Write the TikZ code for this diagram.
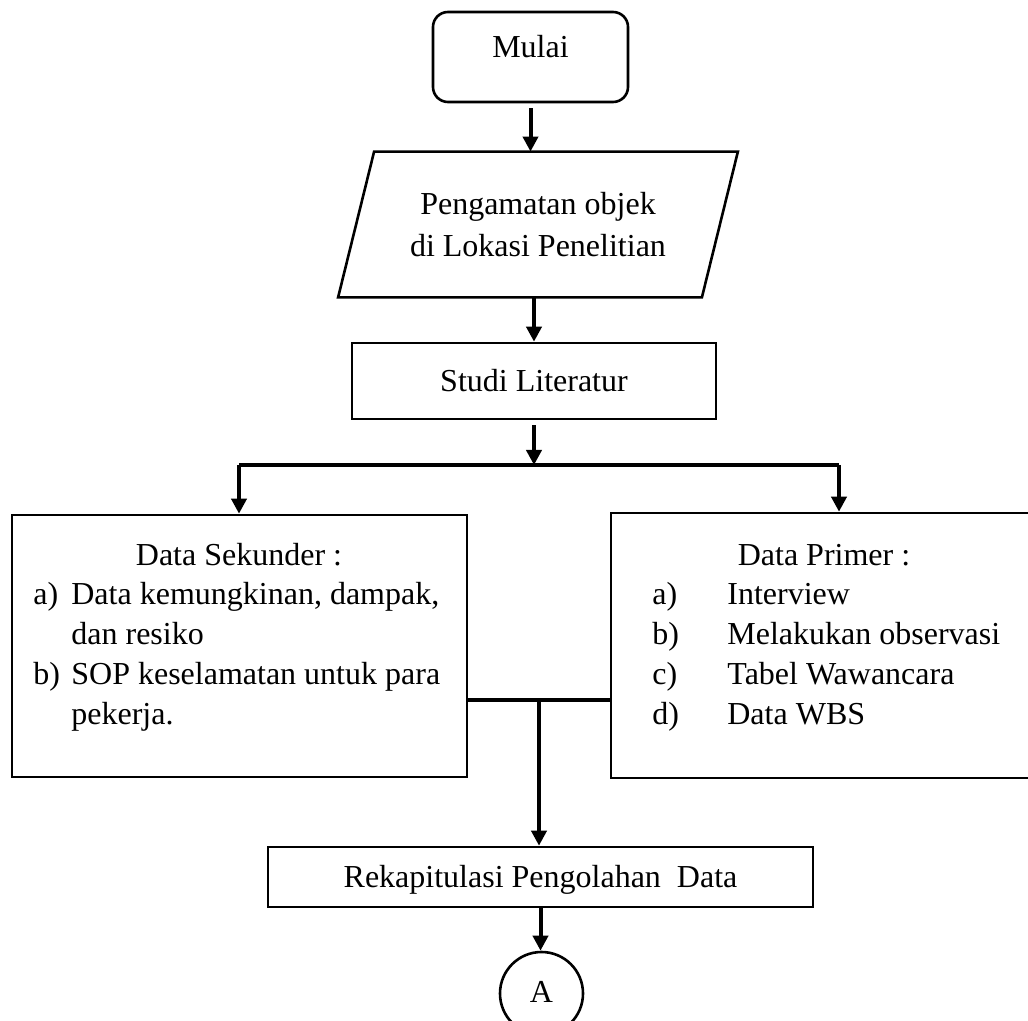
\documentclass[tikz,border=0pt]{standalone}
\usepackage{fontspec}
\setmainfont{Liberation Serif}
\usetikzlibrary{arrows.meta}
\begin{document}
\begin{tikzpicture}[x=0.5pt,y=-0.5pt,
  every node/.style={font=\fontsize{16}{20}\selectfont},
  box/.style={draw, line width=1.3pt, inner sep=0pt},
  arr/.style={line width=2pt, -{Triangle[width=7.5pt,length=7.5pt]}},
  ln/.style={line width=2pt},
]
\useasboundingbox (0,0) rectangle (1028,1021);

% Start
\node[box, rounded corners=7.5pt, minimum width=97.5pt, minimum height=45pt,
      text height=10.9pt, text depth=9.9pt] (mulai) at (530.5,57) {Mulai};

% Parallelogram
\node[inner sep=0pt, minimum width=181.5pt, minimum height=72.5pt, align=center,
      font=\fontsize{16}{21}\selectfont] (obs) at (538,224.5)
      {Pengamatan objek\\di Lokasi Penelitian};
\draw[line width=1.3pt] ([xshift=-9pt]obs.south west) -- ([xshift=-9pt]obs.south east)
  -- ([xshift=9pt]obs.north east) -- ([xshift=9pt]obs.north west) -- cycle;

% Studi Literatur
\node[box, minimum width=182pt, minimum height=38pt] (studi) at (534,381) {Studi Literatur};

% Data Sekunder
\node[box, minimum width=227.5pt, minimum height=131pt] (sek) at (239.5,646) {};
\node[anchor=base] (sekT) at (239,565) {Data Sekunder :};
\node[anchor=base west, inner sep=0pt] (sekL) at (33,604)
  {\begin{tabular}[t]{@{}p{19pt}@{}l@{}}a) & Data kemungkinan, dampak,\\ & dan resiko\\ b) & SOP keselamatan untuk para\\ & pekerja.\end{tabular}};

% Data Primer
\node[box, minimum width=213pt, minimum height=132.5pt] (prim) at (824,645.5) {};
\node[anchor=base] (primT) at (824,565) {Data Primer :};
\node[anchor=base west, inner sep=0pt] (primL) at (652,604)
  {\begin{tabular}[t]{@{}p{37.5pt}@{}l@{}}a) & Interview\\ b) & Melakukan observasi\\ c) & Tabel Wawancara\\ d) & Data WBS\end{tabular}};

% Rekapitulasi
\node[box, minimum width=272.5pt, minimum height=30pt, text height=10.9pt, text depth=0pt]
  (rekap) at (540.5,877) {Rekapitulasi Pengolahan\ \ Data};

% Connector A
\node[circle, draw, line width=1.3pt, minimum size=41.5pt, inner sep=0pt,
      text height=10.6pt, text depth=2.1pt] (A) at (541.5,993.5) {A};

% Coordinates
\coordinate (br) at (536,465);
\coordinate (brL) at (239,465);
\coordinate (brR) at (839,465);
\coordinate (jn) at (539,700);

% Connectors
\draw[arr] ([yshift=-2.5pt]mulai.south) -- (mulai.south |- obs.north);
\draw[arr] (studi.north |- obs.south) -- (studi.north);
\draw[arr] ([yshift=-2.5pt]studi.south) -- (studi.south |- br);
\draw[ln] (brL) -- (brR);
\draw[arr] (brL) -- (brL |- sek.north);
\draw[arr] (brR) -- (brR |- prim.north);
\draw[ln] (sek.east |- jn) -- (prim.west |- jn);
\draw[arr] (jn) -- (jn |- rekap.north);
\draw[arr] (rekap.south) -- (rekap.south |- A.north);
\end{tikzpicture}
\end{document}
